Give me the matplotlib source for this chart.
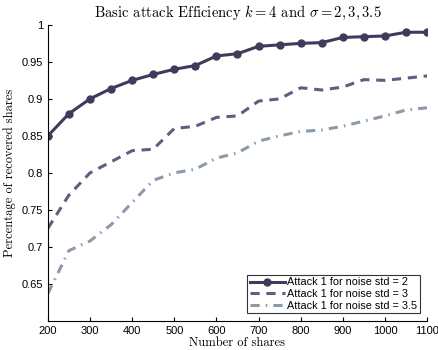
import numpy as np
import matplotlib
matplotlib.use("Agg")
import matplotlib.pyplot as plt

plt.rcParams['mathtext.fontset'] = 'cm'
plt.rcParams['font.family'] = ['Liberation Sans', 'DejaVu Sans']

# number of shares
shares = [200, 250, 300, 350, 400, 450, 500, 550, 600, 650,
          700, 750, 800, 850, 900, 950, 1000, 1050, 1100]
# noise std = 2
std2 = [0.850, 0.880, 0.900, 0.914, 0.925, 0.933, 0.940, 0.945, 0.958, 0.961,
        0.971, 0.973, 0.975, 0.976, 0.983, 0.984, 0.985, 0.990, 0.990]
# noise std = 3
std3 = [0.725, 0.770, 0.800, 0.815, 0.830, 0.832, 0.860, 0.863, 0.875, 0.877,
        0.897, 0.900, 0.915, 0.912, 0.916, 0.926, 0.925, 0.928, 0.931]
# noise std = 3.5
std35 = [0.637, 0.695, 0.708, 0.730, 0.760, 0.790, 0.800, 0.805, 0.820, 0.827,
         0.843, 0.850, 0.856, 0.858, 0.863, 0.870, 0.877, 0.885, 0.888]

labels = ['Attack 1 for noise std = 2',
          'Attack 1 for noise std = 3',
          'Attack 1 for noise std = 3.5']

fig = plt.figure(figsize=(4.39, 3.5), dpi=100)
ax = fig.add_axes([0.109, 0.083, 0.864, 0.846])

ax.plot(shares, std2, '-', color='#3c3c5c', lw=2.2, marker='o', ms=5, label=labels[0])
ax.plot(shares, std3, '--', color='#5a6080', lw=2.2, dashes=(3, 2.2), label=labels[1])
ax.plot(shares, std35, '-.', color='#8a9aaa', lw=2.2, dashes=(3, 2, 0.5, 2), label=labels[2])

ax.set_xlim(200, 1100)
ax.set_ylim(0.6, 1.0)
ax.set_xticks(np.arange(200, 1101, 100))
ax.set_yticks([0.65, 0.7, 0.75, 0.8, 0.85, 0.9, 0.95, 1])
ax.set_yticklabels(['0.65', '0.7', '0.75', '0.8', '0.85', '0.9', '0.95', '1'])
ax.tick_params(direction='in', length=3, labelsize=8, width=0.8)
ax.spines['top'].set_visible(False)
ax.spines['right'].set_visible(False)

ax.set_title(r'Basic attack Efficiency $k=4$ and $\sigma=2,3,3.5$',
             fontsize=10.5, family='cmr10', pad=6)
ax.set_xlabel('Number of shares', fontsize=9, family='cmr10', labelpad=1)
ax.set_ylabel('Percentage of recovered shares', fontsize=9, family='cmr10', labelpad=4)

leg = ax.legend(loc='lower right', fontsize=7.8, frameon=True, fancybox=False,
                handlelength=3.2, handletextpad=0.2, borderpad=0.25, labelspacing=0.15,
                borderaxespad=0.7)
leg.get_frame().set_edgecolor('black')
leg.get_frame().set_linewidth(0.8)

fig.savefig('out.png', dpi=100)
